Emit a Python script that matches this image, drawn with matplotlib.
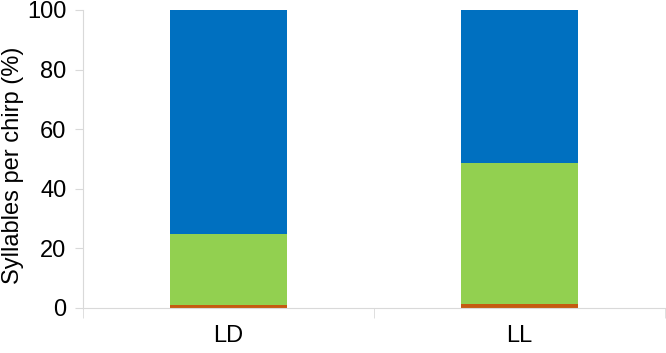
import matplotlib.pyplot as plt
import numpy as np

plt.rcParams['font.family'] = ['Liberation Sans', 'DejaVu Sans']

# Data (percent of syllables per chirp)
groups = ['LD', 'LL']
orange_vals = [1.1, 1.5]
green_vals = [23.6, 47.1]
blue_vals = [75.3, 51.4]

fig = plt.figure(figsize=(6.66, 3.53), dpi=100)
ax = fig.add_axes([0.1246, 0.1275, 0.874, 0.8442])

x = np.arange(len(groups))
width = 0.4
bottom = np.zeros(len(groups))
for vals, color in [(orange_vals, '#C55A11'), (green_vals, '#92D050'), (blue_vals, '#0070C0')]:
    ax.bar(x, vals, width, bottom=bottom, color=color, linewidth=0)
    bottom += np.array(vals)

ax.set_xlim(-0.5, 1.5)
ax.set_ylim(0, 100)
ax.set_yticks([0, 20, 40, 60, 80, 100])
ax.set_xticks(x)
ax.set_xticklabels(groups)
ax.set_xticks([-0.5, 0.5, 1.5], minor=True)
ax.tick_params(axis='x', which='major', length=0, labelsize=17, pad=12)
ax.tick_params(axis='x', which='minor', length=7, color='#D9D9D9', direction='out')
ax.tick_params(axis='y', length=6, color='#D9D9D9', labelsize=17, pad=6)

# y label placed by hand so it does not run off the left edge
fig.text(13 / 666, 1 - 165 / 353, 'Syllables per chirp (%)', fontsize=17,
         rotation=90, ha='center', va='center')

for side in ['top', 'right']:
    ax.spines[side].set_visible(False)
for side in ['left', 'bottom']:
    ax.spines[side].set_color('#D9D9D9')

fig.savefig('out.png', dpi=100)
